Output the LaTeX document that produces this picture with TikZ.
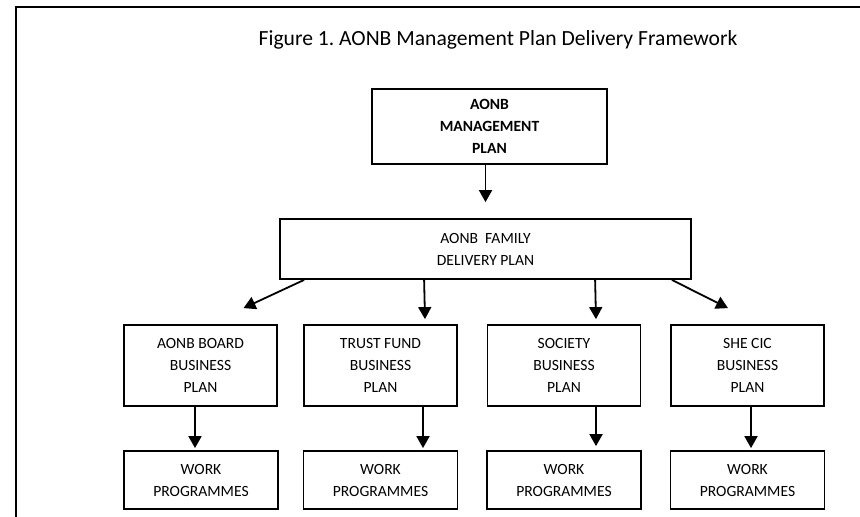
\documentclass[tikz,border=0pt]{standalone}
\usepackage{fontspec}
\setmainfont{Carlito}
\usetikzlibrary{arrows.meta,calc}
\frenchspacing

\begin{document}
\begin{tikzpicture}[x=0.5pt,y=-0.5pt,
  box/.style={draw=black,line width=0.9pt,inner sep=0pt,align=center,font=\fontsize{7.8}{11}\selectfont},
  planbox/.style={box,minimum width=76.5pt,minimum height=40.5pt},
  workbox/.style={box,minimum width=77pt,minimum height=29pt},
  arr/.style={line width=0.9pt,-{Triangle[width=6.5pt,length=6pt]}}]
  \useasboundingbox (0,0) rectangle (860,516);
  \draw[line width=1.1pt] (16,530) -- (16,7) -- (870,7);

  \node[anchor=base,font=\fontsize{10.8}{13}\selectfont](title) at (498,45) {Figure 1. AONB Management Plan Delivery Framework};

  \node[box,font=\fontsize{7.8}{11}\selectfont\bfseries,minimum width=117.5pt,minimum height=37.5pt](mgmt) at (489.5,126.5) {AONB\\MANAGEMENT\\PLAN};
  \node[box,minimum width=205.5pt,minimum height=30pt](family) at (485.5,249) {AONB~~FAMILY\\DELIVERY PLAN};

  \node[planbox](board)   at (200.5,365.5) {AONB BOARD\\BUSINESS\\PLAN};
  \node[planbox](trust)   at (380.5,365.5) {TRUST FUND\\BUSINESS\\PLAN};
  \node[planbox](society) at (564,365.5)   {SOCIETY\\BUSINESS\\PLAN};
  \node[planbox](she)     at (747.5,365.5) {SHE CIC\\BUSINESS\\PLAN};

  \node[workbox](work1) at (201,480)   {WORK\\PROGRAMMES};
  \node[workbox](work2) at (380.5,480) {WORK\\PROGRAMMES};
  \node[workbox](work3) at (564,480)   {WORK\\PROGRAMMES};
  \node[workbox](work4) at (747.5,480) {WORK\\PROGRAMMES};

  \draw[arr] ($(mgmt.south)+(-4,0)$) -- ($(family.north)+(0,-16)$);

  \draw[arr] ($(family.south west)+(25,0)$)  -- ($(board.north)+(43,-16)$);
  \draw[arr] ($(family.south west)+(145,0)$) -- ($(trust.north)+(44.5,-5)$);
  \draw[arr] ($(family.south west)+(316,0)$) -- ($(society.north)+(32,-5)$);
  \draw[arr] ($(family.south east)+(-20,0)$) -- ($(she.north)+(-19.5,-16)$);

  \draw[arr] ($(board.south)+(-5.5,0)$)  -- ($(work1.north)+(-6,-2)$);
  \draw[arr] ($(trust.south)+(42.5,0)$)  -- ($(work2.north)+(42.5,-2)$);
  \draw[arr] ($(society.south)+(32,-2)$) -- ($(work3.north)+(32,-4)$);
  \draw[arr] ($(she.south)+(3.5,0)$)     -- ($(work4.north)+(3.5,-2)$);
\end{tikzpicture}
\end{document}
